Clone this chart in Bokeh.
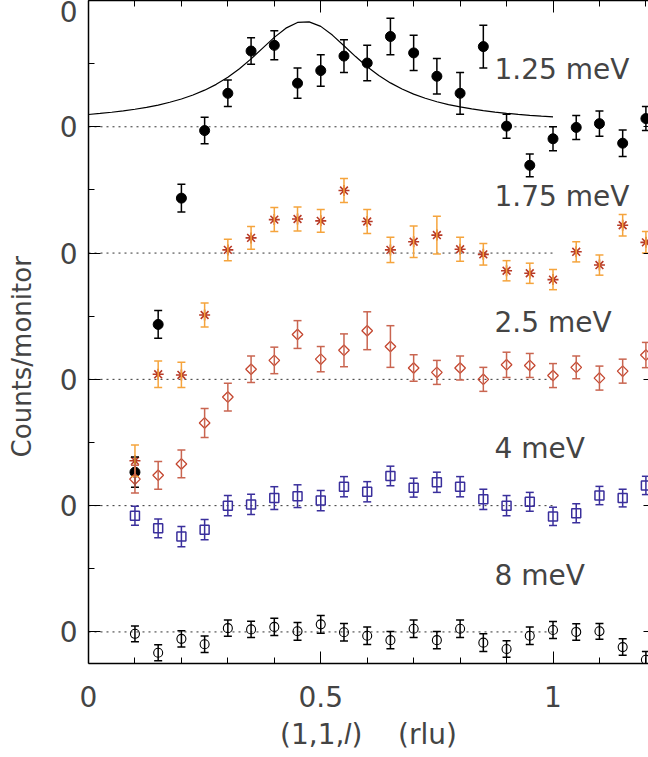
import numpy as np
from bokeh.plotting import figure
from bokeh.models import (ColumnDataSource, Whisker, TeeHead, FixedTicker,
                          LinearAxis, Label, Range1d, CustomJSTickFormatter)
from bokeh.embed import file_html
from bokeh.resources import INLINE

# ---------------- data ----------------
l_vals = [0.10, 0.15, 0.20, 0.25, 0.30, 0.35, 0.40, 0.45, 0.50, 0.55, 0.60, 0.65,
          0.70, 0.75, 0.80, 0.85, 0.90, 0.95, 1.00, 1.05, 1.10, 1.15, 1.20]

energies = ["1.25 meV", "1.75 meV", "2.5 meV", "4 meV", "8 meV"]
offsets = [8, 6, 4, 2, 0]

i_125 = [-5.47, -3.13, -1.13, -0.06, 0.53, 1.20, 1.29, 0.69, 0.89, 1.12, 1.01, 1.43,
         1.17, 0.80, 0.53, 1.27, 0.01, -0.61, -0.19, -0.01, 0.05, -0.26, 0.13]
e_125 = [0.24, 0.22, 0.22, 0.21, 0.21, 0.21, 0.23, 0.24, 0.25, 0.26, 0.28, 0.29,
         0.28, 0.28, 0.33, 0.34, 0.19, 0.18, 0.19, 0.19, 0.20, 0.21, 0.19]

i_175 = [-3.29, -1.92, -1.93, -0.98, 0.05, 0.24, 0.53, 0.54, 0.51, 0.99, 0.50, 0.05,
         0.18, 0.285, 0.06, -0.02, -0.28, -0.32, -0.42, 0.02, -0.19, 0.44, 0.17]
e_175 = [0.25, 0.21, 0.20, 0.19, 0.17, 0.18, 0.19, 0.19, 0.18, 0.19, 0.19, 0.20,
         0.25, 0.30, 0.19, 0.17, 0.16, 0.16, 0.16, 0.16, 0.16, 0.17, 0.17]

i_25 = [-1.58, -1.52, -1.34, -0.69, -0.28, 0.16, 0.30, 0.71, 0.32, 0.46, 0.77, 0.52,
        0.18, 0.11, 0.18, 0.00, 0.23, 0.22, 0.06, 0.19, 0.02, 0.13, 0.385]
e_25 = [0.22, 0.22, 0.22, 0.23, 0.22, 0.21, 0.21, 0.22, 0.20, 0.26, 0.30, 0.33,
        0.21, 0.19, 0.19, 0.19, 0.20, 0.19, 0.19, 0.18, 0.19, 0.19, 0.20]

i_4 = [-0.16, -0.36, -0.49, -0.38, 0.00, 0.02, 0.12, 0.15, 0.08, 0.30, 0.22, 0.47,
       0.285, 0.37, 0.30, 0.10, 0.00, 0.06, -0.17, -0.12, 0.16, 0.12, 0.32]
e_4 = [0.15, 0.15, 0.16, 0.16, 0.16, 0.16, 0.18, 0.18, 0.16, 0.16, 0.16, 0.155,
       0.15, 0.16, 0.16, 0.16, 0.16, 0.15, 0.145, 0.15, 0.145, 0.14, 0.145]

i_8 = [-0.03, -0.33, -0.11, -0.195, 0.06, 0.04, 0.08, 0.01, 0.12, -0.005, -0.06, -0.13,
       0.05, -0.13, 0.05, -0.17, -0.27, -0.06, 0.03, 0.00, 0.01, -0.24, -0.44]
e_8 = [0.125, 0.125, 0.13, 0.13, 0.13, 0.13, 0.135, 0.14, 0.14, 0.14, 0.14, 0.135,
       0.14, 0.135, 0.14, 0.14, 0.13, 0.14, 0.135, 0.13, 0.125, 0.13, 0.13]

# fitted curve for 1.25 meV
fit_l = [0.000, 0.025, 0.050, 0.075, 0.100, 0.125, 0.150, 0.175, 0.200, 0.225, 0.250,
         0.275, 0.300, 0.325, 0.350, 0.375, 0.400, 0.425, 0.450, 0.475, 0.500, 0.525,
         0.550, 0.575, 0.600, 0.625, 0.650, 0.675, 0.700, 0.725, 0.750, 0.775, 0.800,
         0.825, 0.850, 0.875, 0.900, 0.925, 0.950, 0.975, 1.000]
fit_i = [0.195, 0.212, 0.230, 0.252, 0.278, 0.308, 0.344, 0.388, 0.440, 0.503, 0.580,
         0.672, 0.785, 0.920, 1.075, 1.246, 1.416, 1.562, 1.652, 1.662, 1.590, 1.452,
         1.284, 1.112, 0.952, 0.813, 0.695, 0.598, 0.517, 0.452, 0.397, 0.352, 0.315,
         0.283, 0.256, 0.233, 0.213, 0.196, 0.182, 0.169, 0.158]

x_major = [0, 0.5, 1.0]
x_minor = [0.1, 0.2, 0.3, 0.4, 0.6, 0.7, 0.8, 0.9, 1.1, 1.2]
y_major = [0, 2, 4, 6, 8, 10]
y_minor = [1, 3, 5, 7, 9]
# label positions of the "0" tick labels (top one is nudged inside the picture)
y_label_pos = [0, 2, 4, 6, 8, 9.826]

# ---------------- figure ----------------
FONT = "DejaVu Sans"
TXT = "#444444"
PX_PER_UNIT = 464.5
W, H = 648, 757
LEFT, BOTTOM = 88, 94
Y_TOP = 10.0
NB = "\u00a0"

p = figure(width=W, height=H, output_backend="svg", toolbar_location=None,
           x_range=Range1d(0, (W - LEFT) / PX_PER_UNIT), y_range=Range1d(-0.5, Y_TOP),
           min_border_left=LEFT, min_border_bottom=BOTTOM, min_border_top=0,
           min_border_right=0, x_axis_location=None, y_axis_location=None)
p.outline_line_color = None
p.xgrid.visible = False
p.ygrid.visible = False
p.background_fill_color = "white"
p.border_fill_color = "white"

blank = CustomJSTickFormatter(code="return '';")
zero = CustomJSTickFormatter(code="return '0';")


def style_axis(ax):
    ax.axis_line_color = "black"
    ax.axis_line_width = 1.5
    ax.major_tick_in = 12
    ax.major_tick_out = 0
    ax.minor_tick_in = 6
    ax.minor_tick_out = 0
    ax.major_tick_line_color = "black"
    ax.minor_tick_line_color = "black"
    ax.major_tick_line_width = 1
    ax.minor_tick_line_width = 1
    ax.major_label_text_font = FONT
    ax.major_label_text_color = TXT


xt = FixedTicker(ticks=x_major, minor_ticks=x_minor)
yt = FixedTicker(ticks=y_major, minor_ticks=y_minor)

xb = LinearAxis(ticker=xt)
style_axis(xb)
xb.major_label_text_font_size = "28px"
xb.major_label_standoff = 22
xb.major_label_overrides = {0: "0", 0.5: "0.5", 1.0: "1"}
xb.axis_label = "(1,1,\U0001D459)" + NB * 4 + "(rlu)"
xb.axis_label_text_font = FONT
xb.axis_label_text_font_style = "normal"
xb.axis_label_text_font_size = "28px"
xb.axis_label_text_color = TXT
xb.axis_label_standoff = 8
p.add_layout(xb, "below")

xtop = LinearAxis(ticker=xt, formatter=blank)
style_axis(xtop)
xtop.major_label_standoff = 0
p.add_layout(xtop, "above")

# inner left axis: line + ticks only
yl = LinearAxis(ticker=yt, formatter=blank)
style_axis(yl)
yl.major_label_standoff = 0
p.add_layout(yl, "left")

# outer left axis: tick labels and title only
yl2 = LinearAxis(ticker=FixedTicker(ticks=y_label_pos, minor_ticks=[]), formatter=zero)
yl2.axis_line_color = None
yl2.major_tick_line_color = None
yl2.minor_tick_line_color = None
yl2.major_tick_in = 0
yl2.major_tick_out = 0
yl2.major_label_text_font = FONT
yl2.major_label_text_color = TXT
yl2.major_label_text_font_size = "28px"
yl2.major_label_standoff = 11
yl2.axis_label = "Counts/monitor" + NB * 6
yl2.axis_label_text_font = FONT
yl2.axis_label_text_font_style = "normal"
yl2.axis_label_text_font_size = "26px"
yl2.axis_label_text_color = TXT
yl2.axis_label_standoff = 20
p.add_layout(yl2, "left")

yr = LinearAxis(ticker=FixedTicker(ticks=y_major, minor_ticks=[]), formatter=blank)
yr.axis_line_color = None
yr.major_tick_in = 5
yr.major_tick_out = 0
yr.minor_tick_line_color = None
yr.major_tick_line_color = "black"
yr.major_label_standoff = 0
p.add_layout(yr, "right")

# zero lines
p.segment(x0=0, x1=1, y0=offsets, y1=offsets, line_color="#333333", line_width=1,
          line_dash="2 4")

series = [
    (i_125, e_125, 8, dict(marker="circle", size=10, fill_color="black", line_color="black"), "black"),
    (i_175, e_175, 6, dict(marker="asterisk", size=11, line_color="#b83a26", line_width=1.6), "#f5a43c"),
    (i_25, e_25, 4, dict(marker="square", angle=np.pi / 4, size=7.5, fill_color=None,
                         line_color="#c4462f", line_width=1.3), "#c96550"),
    (i_4, e_4, 2, dict(marker="square", size=9, fill_color=None, line_color="#3a2f9c",
                       line_width=1.5), "#3a2f9c"),
    (i_8, e_8, 0, dict(marker="circle", size=9, fill_color=None, line_color="black",
                       line_width=1.1), "black"),
]

for vals, errs, off, mk, ecol in series:
    v = np.array(vals) + off
    e = np.array(errs)
    src = ColumnDataSource(dict(x=l_vals, y=v, lo=v - e, hi=v + e))
    w = Whisker(source=src, base="x", lower="lo", upper="hi", line_color=ecol,
                line_width=1.5, level="glyph",
                upper_head=TeeHead(size=8, line_color=ecol, line_width=1.5),
                lower_head=TeeHead(size=8, line_color=ecol, line_width=1.5))
    p.add_layout(w)
    p.scatter(x="x", y="y", source=src, **mk)

# fit curve
p.line(fit_l, np.array(fit_i) + 8, line_color="black", line_width=1.2)

# energy labels
for name, off in zip(energies, offsets):
    p.add_layout(Label(x=0.874, y=off + 0.9, text=name, text_baseline="middle",
                       text_align="left", text_font=FONT, text_font_size="28px",
                       text_color=TXT))

open("out.html", "w").write(file_html(p, INLINE))
